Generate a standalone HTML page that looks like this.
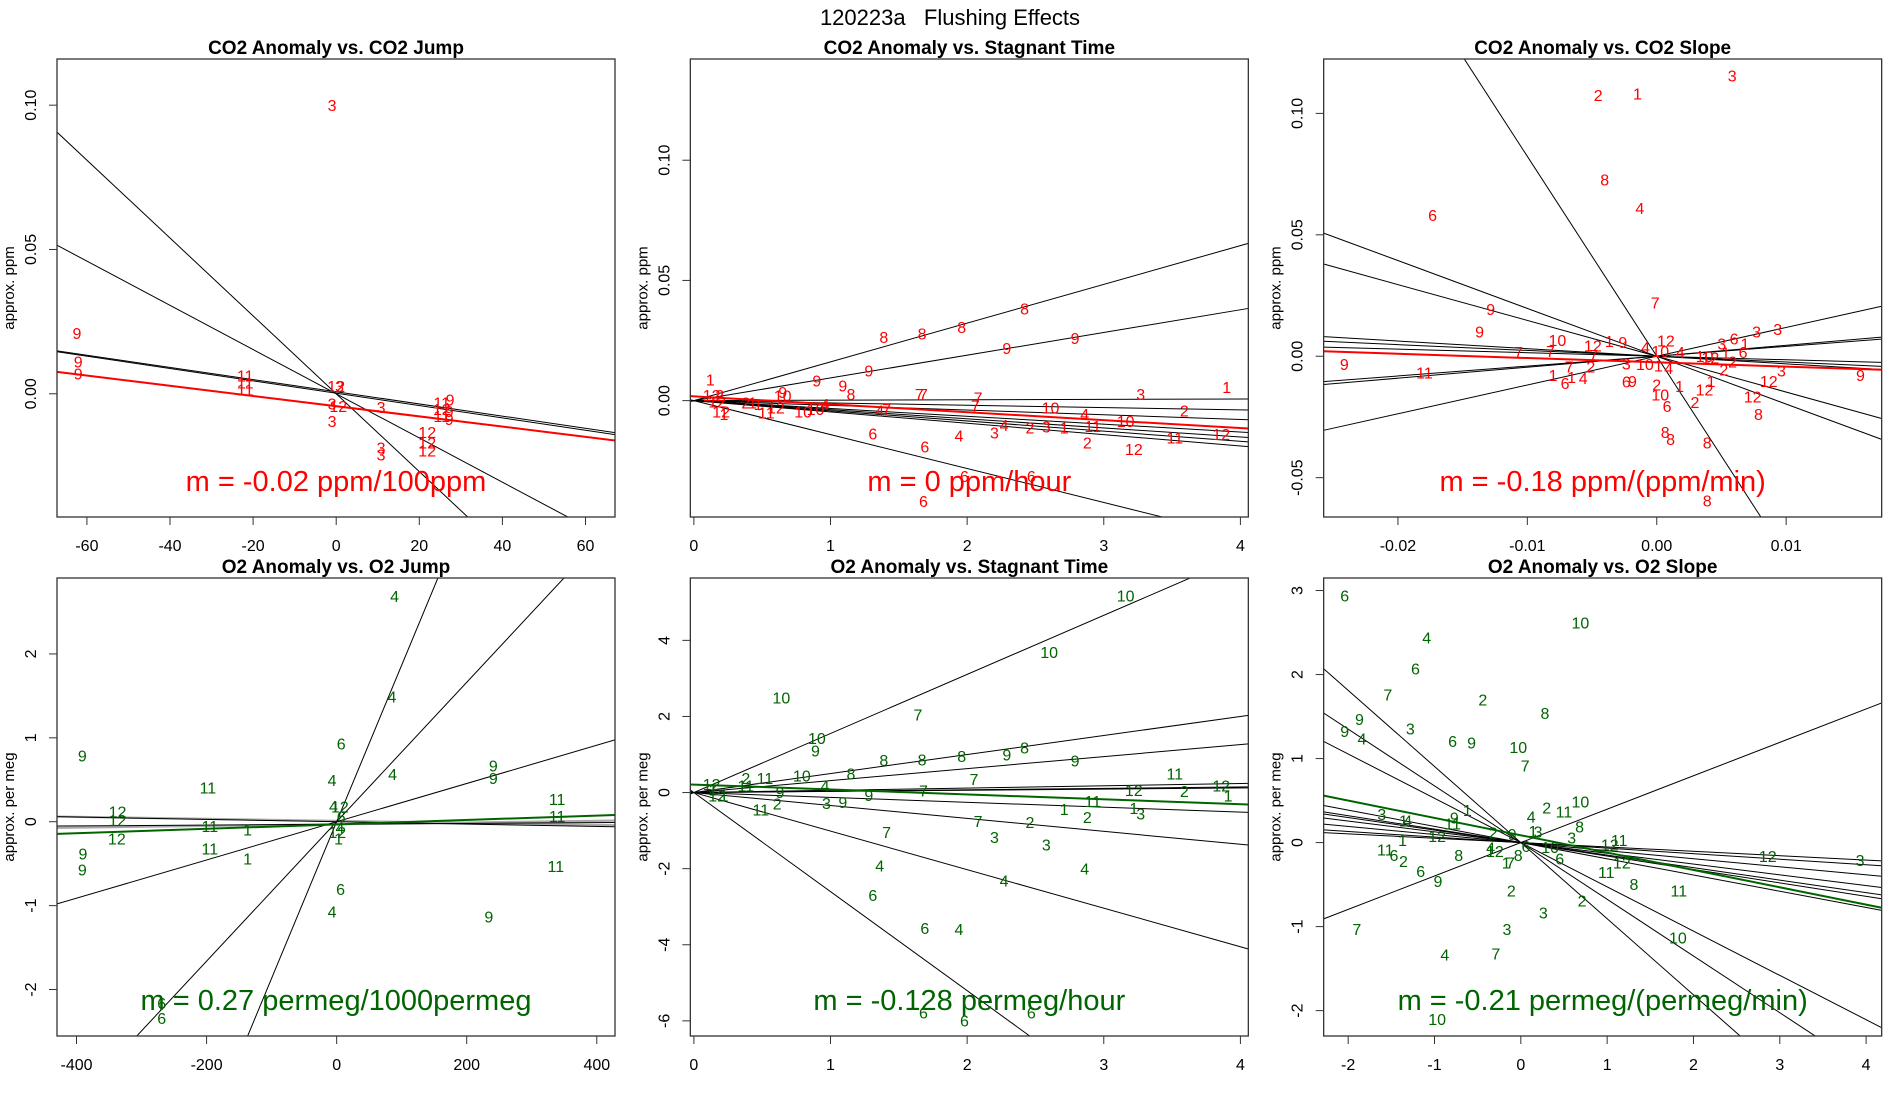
<!DOCTYPE html>
<html><head><meta charset="utf-8"><style>
html,body{margin:0;padding:0;background:#fff;width:1900px;height:1100px;overflow:hidden;}
svg{display:block;font-family:"Liberation Sans",Arial,sans-serif;}
</style></head><body>
<svg id="chart" width="1900" height="1100" viewBox="0 0 1900 1100" xmlns="http://www.w3.org/2000/svg">
<rect x="0" y="0" width="1900" height="1100" fill="#fff"/>
<text x="950" y="25" font-size="22" text-anchor="middle" xml:space="preserve">120223a   Flushing Effects</text>
</svg>
<script>
// ---------- Panel 1: CO2 Anomaly vs CO2 Jump ----------
const p1Labels = ["3","9","9","9","11","11","11","12","3","3","12","3","3","3","3","12","12","12","9","11","12","9","9","11"];
const p1X = [-1.0,-62.4,-62.1,-62.1,-21.9,-21.9,-21.9,0,0.8,-1.0,0.5,-1.0,10.8,10.8,10.8,21.9,21.9,21.9,27.4,25.4,25.4,27.2,27.2,25.4];
const p1Y = [0.100,0.021,0.0112,0.0070,0.0063,0.0039,0.0015,0.0027,0.0027,-0.0034,-0.0043,-0.0095,-0.0046,-0.0187,-0.0211,-0.0132,-0.0168,-0.0196,-0.0020,-0.0030,-0.0052,-0.0059,-0.0087,-0.0077];
const p1Slopes = [-0.001349,-0.000766,-0.000211,-0.000214];
const p1Ints = [0,0,0.0007,0.0002];
const p1FitSlope = [-0.000177];
const p1FitInt = [-0.0043];
const p1XTicks = [-60,-40,-20,0,20,40,60];
const p1XTickLabels = ["-60","-40","-20","0","20","40","60"];
const p1YTicks = [0,0.05,0.10];
const p1YTickLabels = ["0.00","0.05","0.10"];

// ---------- Panel 2: CO2 Anomaly vs Stagnant Time ----------
const p2Labels = ["1","12","2","12","12","1","2","1","1","11","12","9","10","10","10","4","9","9","8","9","8","8","8","8","9","9","7","7","7","7","4","7","10","3","1","2","4","11","10","12","11","2","12","1","3","2","4","3","4","6","6","6","6","6"];
const p2X = [0.12,0.13,0.19,0.17,0.20,0.22,0.38,0.43,0.47,0.53,0.60,0.65,0.65,0.80,0.89,0.96,0.90,1.09,1.15,1.28,1.39,1.67,1.96,2.42,2.29,2.79,1.65,1.68,2.08,2.06,1.36,1.41,2.61,3.27,3.90,3.59,2.86,2.92,3.16,3.86,3.52,2.88,3.22,2.71,2.58,2.46,2.27,2.20,1.94,1.31,1.69,1.98,2.47,1.68];
const p2Y = [0.0088,0.0024,0.0024,-0.0004,-0.0046,-0.0056,-0.0007,-0.0007,-0.0014,-0.0049,-0.0028,0.0035,0.0021,-0.0046,-0.0035,-0.0014,0.0084,0.0063,0.0028,0.0126,0.0265,0.0279,0.0307,0.0384,0.0219,0.0261,0.0028,0.0028,0.0014,-0.0021,-0.0042,-0.0035,-0.0028,0.0028,0.0056,-0.0042,-0.0056,-0.0105,-0.0084,-0.0139,-0.0153,-0.0174,-0.0202,-0.0112,-0.0107,-0.0112,-0.0102,-0.0132,-0.0144,-0.0137,-0.0191,-0.0314,-0.0314,-0.0418];
const p2Slopes = [0.01612,0.00945,0.00017,-0.00096,-0.00196,-0.00326,-0.00378,-0.00423,-0.00471,-0.01412];
const p2Ints = [0,0,0,0,0,0,0,0,0,0];
const p2FitSlope = [-0.00330];
const p2FitInt = [0.0018];
const p2XTicks = [0,1,2,3,4];
const p2XTickLabels = ["0","1","2","3","4"];
const p2YTicks = [0,0.05,0.10];
const p2YTickLabels = ["0.00","0.05","0.10"];

// ---------- Panel 3: CO2 Anomaly vs CO2 Slope ----------
const p3Labels = ["3","2","1","8","4","6","7","9","9","10","12","1","9","12","4","10","4","7","7","7","9","11","7","2","3","10","1","4","10","12","3","6","1","1","6","3","3","2","2","3","12","9","1","6","1","4","6","9","2","1","10","12","1","6","2","12","8","8","8","8","8"];
const p3X = [0.00583,-0.00452,-0.00149,-0.00402,-0.00131,-0.01732,-0.00012,-0.01283,-0.01369,-0.00768,-0.00494,-0.00366,-0.00262,0.00071,-0.00086,0.00027,0.00182,-0.01068,-0.00821,-0.00488,-0.02414,-0.01795,-0.00676,-0.00509,-0.00235,-0.00092,0.00012,0.00092,0.00369,0.00414,0.00503,0.00598,0.00682,0.00533,0.00667,0.00771,0.00935,0.00518,0.00586,0.00964,0.00866,0.01574,-0.00801,-0.00708,-0.00658,-0.00568,-0.00235,-0.00188,0,0.00176,0.00027,0.00369,0.00420,0.00080,0.00295,0.00741,0.00786,0.00065,0.00107,0.00390,0.00390];
const p3Y = [0.1156,0.1076,0.1081,0.0727,0.0610,0.0581,0.0221,0.0195,0.0102,0.0067,0.0044,0.0063,0.0059,0.0065,0.0038,0.0021,0.0017,0.0017,0.0021,0.0005,-0.0032,-0.0067,-0.0043,-0.0043,-0.0030,-0.0032,-0.0038,-0.0049,0.0002,-0.0006,0.0052,0.0073,0.0052,0.0016,0.0017,0.0102,0.0113,-0.0054,-0.0022,-0.0059,-0.0102,-0.0078,-0.0078,-0.0110,-0.0086,-0.0089,-0.0105,-0.0102,-0.0117,-0.0122,-0.0157,-0.0137,-0.0102,-0.0205,-0.0189,-0.0165,-0.0237,-0.0311,-0.0340,-0.0356,-0.0594];
const p3Slopes = [-8.23,-1.97,-1.475,0.4058,0.452,1.185,-0.313,-0.239,-0.146];
const p3Ints = [0,0,0,0,0,0,0,0,0];
const p3FitSlope = [-0.176];
const p3FitInt = [-0.0025];
const p3XTicks = [-0.02,-0.01,0,0.01];
const p3XTickLabels = ["-0.02","-0.01","0.00","0.01"];
const p3YTicks = [-0.05,0,0.05,0.10];
const p3YTickLabels = ["-0.05","0.00","0.05","0.10"];

// ---------- Panel 4: O2 Anomaly vs O2 Jump ----------
const p4Labels = ["4","4","6","4","4","9","11","12","12","12","9","9","11","11","1","1","4","6","9","9","9","11","11","11","4","12","6","4","12","1","6","6"];
const p4X = [89,85,7,86,-7,-391,-198,-337,-337,-338,-390,-391,-195,-195,-137,-137,-7,6,234,241,241,339,339,337,-5,5,7,5,1,3,-269,-269];
const p4Y = [2.69,1.49,0.93,0.57,0.50,0.79,0.41,0.12,0.02,-0.20,-0.38,-0.57,-0.05,-0.32,-0.09,-0.44,-1.07,-0.80,-1.13,0.67,0.52,0.27,0.07,-0.53,0.19,0.18,0.06,-0.07,-0.12,-0.20,-2.16,-2.34];
const p4Slopes = [0.01866,0.00831,0.002279,-0.00014,0.00005];
const p4Ints = [0,0,0,0,-0.03];
const p4GraySlopes = [-0.00012,0.0001];
const p4GrayInts = [0.01,-0.03];
const p4FitSlope = [0.000263];
const p4FitInt = [-0.032];
const p4XTicks = [-400,-200,0,200,400];
const p4XTickLabels = ["-400","-200","0","200","400"];
const p4YTicks = [-2,-1,0,1,2];
const p4YTickLabels = ["-2","-1","0","1","2"];

// ---------- Panel 5: O2 Anomaly vs Stagnant Time ----------
const p5Labels = ["10","10","10","7","10","9","8","8","8","8","9","9","8","10","11","7","2","11","4","11","12","1","12","1","9","7","9","12","2","12","1","11","1","2","3","9","11","1","3","2","7","2","3","3","7","4","4","4","6","6","4","6","6","6"];
const p5X = [3.16,2.60,0.64,1.64,0.90,0.89,2.42,1.39,1.67,1.96,2.29,2.79,1.15,0.79,3.52,2.05,0.38,0.52,0.96,0.38,0.13,0.14,0.17,0.22,0.63,1.68,1.28,3.22,3.59,3.86,3.91,2.92,2.71,0.61,0.97,1.09,0.49,3.22,3.27,2.88,2.08,2.46,2.20,2.58,1.41,1.36,2.86,2.27,1.31,1.69,1.94,1.68,1.98,2.47];
const p5Y = [5.18,3.69,2.50,2.05,1.43,1.10,1.19,0.86,0.87,0.96,1.00,0.84,0.50,0.45,0.50,0.35,0.38,0.38,0.19,0.18,0.23,0.08,-0.08,-0.08,0.01,0.06,-0.06,0.07,0.04,0.19,-0.08,-0.22,-0.43,-0.29,-0.27,-0.25,-0.44,-0.41,-0.55,-0.64,-0.75,-0.78,-1.17,-1.36,-1.04,-1.92,-2.00,-2.31,-2.69,-3.56,-3.58,-5.78,-5.99,-5.78];
const p5Slopes = [1.5526,0.4997,0.315,0.0593,0.0365,0.03,-0.128,-0.34,-1.013,-2.603];
const p5Ints = [0,0,0,0,0,0,0,0,0,0];
const p5FitSlope = [-0.1293];
const p5FitInt = [0.21];
const p5XTicks = [0,1,2,3,4];
const p5XTickLabels = ["0","1","2","3","4"];
const p5YTicks = [-6,-4,-2,0,2,4];
const p5YTickLabels = ["-6","-4","-2","0","2","4"];

// ---------- Panel 6: O2 Anomaly vs O2 Slope ----------
const p6Labels = ["6","10","4","6","7","2","8","9","9","4","3","6","9","10","7","10","2","11","1","3","1","4","9","11","4","8","1","3","3","2","9","12","1","11","6","2","8","4","12","1","7","8","6","10","6","12","11","12","11","6","9","8","11","2","2","3","12","3","7","3","10","4","7","10"];
const p6X = [-2.04,0.69,-1.09,-1.22,-1.54,-0.44,0.28,-1.87,-2.04,-1.84,-1.28,-0.79,-0.57,-0.03,0.05,0.69,0.30,0.50,-0.62,-1.61,-1.36,-1.31,-0.77,-0.79,0.12,0.68,0.14,0.20,0.59,-0.32,-0.10,-0.97,-1.37,-1.57,-1.47,-1.36,-0.72,-0.35,-0.30,-0.17,-0.12,-0.03,0.06,0.34,0.45,1.03,1.14,1.17,0.99,-1.16,-0.96,1.31,1.83,-0.11,0.71,0.26,2.86,3.93,-1.90,-0.16,1.82,-0.88,-0.29,-0.97];
const p6Y = [2.94,2.62,2.44,2.07,1.76,1.70,1.54,1.47,1.33,1.24,1.36,1.21,1.19,1.14,0.92,0.49,0.42,0.37,0.39,0.34,0.26,0.26,0.30,0.23,0.31,0.19,0.14,0.13,0.06,0.12,0.10,0.08,0.03,-0.08,-0.15,-0.22,-0.15,-0.06,-0.10,-0.24,-0.24,-0.15,-0.04,-0.05,-0.19,-0.02,0.03,-0.24,-0.35,-0.34,-0.46,-0.49,-0.57,-0.57,-0.69,-0.83,-0.16,-0.21,-1.03,-1.03,-1.13,-1.33,-1.32,-2.10];
const p6Slopes = [0.3976,-0.906,-0.675,-0.527,-0.193,-0.16,-0.149,-0.128,-0.096,-0.066,-0.052];
const p6Ints = [0,0,0,0,0,0,0,0,0,0,0];
const p6FitSlope = [-0.2064];
const p6FitInt = [0.087];
const p6XTicks = [-2,-1,0,1,2,3,4];
const p6XTickLabels = ["-2","-1","0","1","2","3","4"];
const p6YTicks = [-2,-1,0,1,2,3];
const p6YTickLabels = ["-2","-1","0","1","2","3"];

const NS = "http://www.w3.org/2000/svg";
const svg = document.getElementById("chart");
function mk(tag, attrs, parent) {
  const e = document.createElementNS(NS, tag);
  for (const k in attrs) e.setAttribute(k, attrs[k]);
  (parent || svg).appendChild(e);
  return e;
}

const panels = [
  {key:"co2-jump", title:"CO2 Anomaly vs. CO2 Jump", ylab:"approx. ppm", col:0, row:0, xlim:[-67.2,67.1], ylim:[-0.0427,0.116], labels:p1Labels, xs:p1X, ys:p1Y, slopes:p1Slopes, ints:p1Ints, fs:p1FitSlope, fi:p1FitInt, xt:p1XTicks, xtl:p1XTickLabels, yt:p1YTicks, ytl:p1YTickLabels, color:"#ff0000", mtext:"m = -0.02 ppm/100ppm"},
  {key:"co2-stagnant", title:"CO2 Anomaly vs. Stagnant Time", ylab:"approx. ppm", col:1, row:0, xlim:[-0.026,4.058], ylim:[-0.0484,0.1421], labels:p2Labels, xs:p2X, ys:p2Y, slopes:p2Slopes, ints:p2Ints, fs:p2FitSlope, fi:p2FitInt, xt:p2XTicks, xtl:p2XTickLabels, yt:p2YTicks, ytl:p2YTickLabels, color:"#ff0000", mtext:"m = 0 ppm/hour"},
  {key:"co2-slope", title:"CO2 Anomaly vs. CO2 Slope", ylab:"approx. ppm", col:2, row:0, xlim:[-0.02574,0.01738], ylim:[-0.0662,0.1224], labels:p3Labels, xs:p3X, ys:p3Y, slopes:p3Slopes, ints:p3Ints, fs:p3FitSlope, fi:p3FitInt, xt:p3XTicks, xtl:p3XTickLabels, yt:p3YTicks, ytl:p3YTickLabels, color:"#ff0000", mtext:"m = -0.18 ppm/(ppm/min)"},
  {key:"o2-jump", title:"O2 Anomaly vs. O2 Jump", ylab:"approx. per meg", col:0, row:1, xlim:[-430,428], ylim:[-2.554,2.905], labels:p4Labels, xs:p4X, ys:p4Y, slopes:p4Slopes, ints:p4Ints, gs:p4GraySlopes, gi:p4GrayInts, fs:p4FitSlope, fi:p4FitInt, xt:p4XTicks, xtl:p4XTickLabels, yt:p4YTicks, ytl:p4YTickLabels, color:"#006400", mtext:"m = 0.27 permeg/1000permeg"},
  {key:"o2-stagnant", title:"O2 Anomaly vs. Stagnant Time", ylab:"approx. per meg", col:1, row:1, xlim:[-0.026,4.058], ylim:[-6.398,5.639], labels:p5Labels, xs:p5X, ys:p5Y, slopes:p5Slopes, ints:p5Ints, fs:p5FitSlope, fi:p5FitInt, xt:p5XTicks, xtl:p5XTickLabels, yt:p5YTicks, ytl:p5YTickLabels, color:"#006400", mtext:"m = -0.128 permeg/hour"},
  {key:"o2-slope", title:"O2 Anomaly vs. O2 Slope", ylab:"approx. per meg", col:2, row:1, xlim:[-2.284,4.18], ylim:[-2.302,3.149], labels:p6Labels, xs:p6X, ys:p6Y, slopes:p6Slopes, ints:p6Ints, fs:p6FitSlope, fi:p6FitInt, xt:p6XTicks, xtl:p6XTickLabels, yt:p6YTicks, ytl:p6YTickLabels, color:"#006400", mtext:"m = -0.21 permeg/(permeg/min)"}
];

panels.forEach(function(p, idx) {
  const L = 57 + 633.33 * p.col, W = 558;
  const T = p.row === 0 ? 59 : 578, H = 458;
  const sx = v => L + (v - p.xlim[0]) / (p.xlim[1] - p.xlim[0]) * W;
  const sy = v => T + H - (v - p.ylim[0]) / (p.ylim[1] - p.ylim[0]) * H;
  const g = mk("g", {});
  
  
  const clipId = "clip" + idx;
  const cp = mk("clipPath", {id: clipId}, g);
  mk("rect", {x: L, y: T, width: W, height: H}, cp);

  const title = mk("text", {x: L + W / 2, y: T - 5, "font-size": 19, "font-weight": "bold", "text-anchor": "middle"}, g);
  title.textContent = p.title;
  
  

  const yl = mk("text", {x: L - 43, y: T + H / 2, "font-size": 15, "text-anchor": "middle", transform: "rotate(-90 " + (L - 43) + " " + (T + H / 2) + ")"}, g);
  yl.textContent = p.ylab;
  
  

  const plot = mk("g", {"clip-path": "url(#" + clipId + ")"}, g);
  
  

  if (p.gs) {
    p.gs.forEach(function(s, i) {
      const a = p.gi[i];
      const ln = mk("line", {x1: sx(p.xlim[0]), y1: sy(a + s * p.xlim[0]), x2: sx(p.xlim[1]), y2: sy(a + s * p.xlim[1]), stroke: "#aaaaaa", "stroke-width": 2.2}, plot);
      
      
    });
  }
  p.slopes.forEach(function(s, i) {
    const a = p.ints[i];
    const ln = mk("line", {x1: sx(p.xlim[0]), y1: sy(a + s * p.xlim[0]), x2: sx(p.xlim[1]), y2: sy(a + s * p.xlim[1]), stroke: "#000", "stroke-width": 1}, plot);
    
    
  });

  p.xs.forEach(function(x, i) {
    const t = mk("text", {x: sx(x), y: sy(p.ys[i]) + 6, "font-size": 16, fill: p.color, "text-anchor": "middle"}, plot);
    t.textContent = p.labels[i];
    
    
  });

  p.fs.forEach(function(s, i) {
    const a = p.fi[i];
    const ln = mk("line", {x1: sx(p.xlim[0]), y1: sy(a + s * p.xlim[0]), x2: sx(p.xlim[1]), y2: sy(a + s * p.xlim[1]), stroke: p.color, "stroke-width": 2}, plot);
    
    
  });

  const mt = mk("text", {x: L + W / 2, y: T + H - 26, "font-size": 29, fill: p.color, "text-anchor": "middle"}, g);
  mt.textContent = p.mtext;
  
  

  const box = mk("rect", {x: L, y: T, width: W, height: H, fill: "none", stroke: "#333", "stroke-width": 1.3}, g);
  
  

  p.xt.forEach(function(v, i) {
    const X = sx(v);
    const tk = mk("line", {x1: X, y1: T + H, x2: X, y2: T + H + 8, stroke: "#333", "stroke-width": 1}, g);
    
    
    const tl = mk("text", {x: X, y: T + H + 34, "font-size": 16, "text-anchor": "middle"}, g);
    tl.textContent = p.xtl[i];
    
    
  });
  p.yt.forEach(function(v, i) {
    const Y = sy(v);
    const tk = mk("line", {x1: L - 8, y1: Y, x2: L, y2: Y, stroke: "#333", "stroke-width": 1}, g);
    
    
    const xx = L - 21;
    const tl = mk("text", {x: xx, y: Y, "font-size": 16, "text-anchor": "middle", transform: "rotate(-90 " + xx + " " + Y + ")"}, g);
    tl.textContent = p.ytl[i];
    
    
  });
});
</script>
</body></html>
